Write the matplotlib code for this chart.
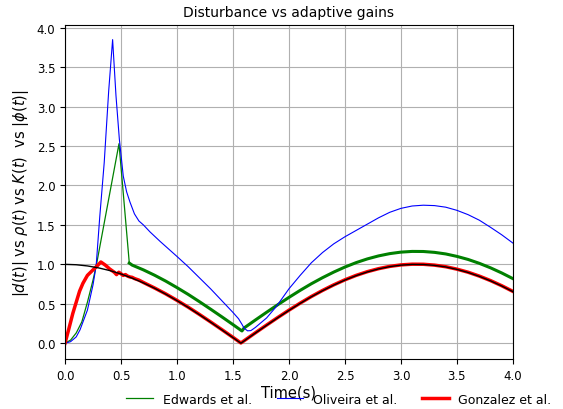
import numpy as np
import matplotlib.pyplot as plt

# disturbance |d(t)|
t_dist = [0.0, 0.1, 0.2, 0.3, 0.4, 0.5, 0.6, 0.7, 0.8, 0.9, 1.0, 1.1, 1.2, 1.3, 1.4, 1.5,
          1.5708, 1.6, 1.7, 1.8, 1.9, 2.0, 2.1, 2.2, 2.3, 2.4, 2.5, 2.6, 2.7, 2.8, 2.9, 3.0,
          3.1, 3.2, 3.3, 3.4, 3.5, 3.6, 3.7, 3.8, 3.9, 4.0]
d_abs = [1.000, 0.995, 0.980, 0.955, 0.921, 0.878, 0.825, 0.765, 0.697, 0.622, 0.540, 0.454,
         0.362, 0.267, 0.170, 0.071, 0.0, 0.029, 0.129, 0.227, 0.323, 0.416, 0.505, 0.589,
         0.666, 0.737, 0.801, 0.857, 0.904, 0.942, 0.971, 0.990, 0.999, 0.998, 0.987, 0.967,
         0.936, 0.897, 0.848, 0.791, 0.726, 0.654]

# Edwards et al. - rho(t)
t_edw = [0.0, 0.05, 0.1, 0.15, 0.2, 0.25, 0.28, 0.482, 0.574]
rho_edw = [0.0, 0.04, 0.13, 0.27, 0.52, 0.80, 0.99, 2.53, 1.016]
t_edw2 = [0.574, 0.6, 0.7, 0.8, 0.9, 1.0, 1.1, 1.2, 1.3, 1.4, 1.5, 1.58, 1.6, 1.7, 1.8,
          1.9, 2.0, 2.1, 2.2, 2.3, 2.4, 2.5, 2.6, 2.7, 2.8, 2.9, 3.0, 3.1, 3.2, 3.3, 3.4,
          3.5, 3.6, 3.7, 3.8, 3.9, 4.0]
rho_edw2 = [1.016, 0.99, 0.93, 0.862, 0.787, 0.705, 0.619, 0.527, 0.432, 0.335, 0.236, 0.155,
            0.194, 0.294, 0.392, 0.488, 0.581, 0.67, 0.754, 0.831, 0.902, 0.966, 1.022, 1.069,
            1.107, 1.136, 1.155, 1.164, 1.163, 1.152, 1.132, 1.101, 1.062, 1.013, 0.956,
            0.891, 0.819]

# Oliveira et al. - K(t)
t_oli = [0.0, 0.05, 0.1, 0.134, 0.2, 0.25, 0.265, 0.28, 0.31, 0.35, 0.39, 0.425, 0.455,
         0.485, 0.52, 0.55, 0.58, 0.62, 0.66, 0.7, 0.76, 0.85, 1.0, 1.1, 1.2, 1.3, 1.4,
         1.5, 1.55, 1.58, 1.6, 1.63, 1.66, 1.7, 1.8, 1.875, 1.9, 2.0, 2.1, 2.2, 2.3, 2.4,
         2.5, 2.6, 2.7, 2.8, 2.9, 3.0, 3.1, 3.2, 3.3, 3.4, 3.5, 3.6, 3.7, 3.8, 3.9, 4.0]
k_oli = [0.0, 0.02, 0.08, 0.17, 0.42, 0.74, 0.87, 1.02, 1.6, 2.29, 3.2, 3.85, 3.14, 2.59,
         2.12, 1.92, 1.79, 1.64, 1.55, 1.50, 1.41, 1.29, 1.10, 0.97, 0.83, 0.69, 0.54,
         0.39, 0.31, 0.24, 0.19, 0.157, 0.16, 0.20, 0.32, 0.445, 0.49, 0.69, 0.86, 1.02,
         1.15, 1.26, 1.35, 1.43, 1.51, 1.59, 1.66, 1.71, 1.74, 1.75, 1.745, 1.725, 1.685,
         1.63, 1.56, 1.47, 1.375, 1.27]

# Gonzalez et al. - |phi(t)|
t_gon = [0.0, 0.03, 0.07, 0.1, 0.13, 0.16, 0.2, 0.25, 0.28, 0.32, 0.36, 0.4, 0.44, 0.46,
         0.48, 0.5, 0.52, 0.54, 0.56, 0.58, 0.6, 0.62, 0.64, 0.66, 0.68, 0.7, 0.8, 0.9,
         1.0, 1.1, 1.2, 1.3, 1.4, 1.5, 1.5708, 1.6, 1.7, 1.8, 1.9, 2.0, 2.1, 2.2, 2.3,
         2.4, 2.5, 2.6, 2.7, 2.8, 2.9, 3.0, 3.1, 3.2, 3.3, 3.4, 3.5, 3.6, 3.7, 3.8, 3.9, 4.0]
phi_gon = [0.0, 0.16, 0.38, 0.52, 0.66, 0.76, 0.86, 0.93, 0.97, 1.03, 0.99, 0.94, 0.90,
           0.87, 0.90, 0.88, 0.86, 0.87, 0.85, 0.84, 0.835, 0.82, 0.81, 0.80, 0.785, 0.77,
           0.70, 0.625, 0.543, 0.457, 0.365, 0.27, 0.173, 0.074, 0.003, 0.032, 0.132,
           0.23, 0.326, 0.419, 0.508, 0.592, 0.669, 0.74, 0.804, 0.86, 0.907, 0.945, 0.974,
           0.993, 1.002, 1.001, 0.99, 0.97, 0.939, 0.9, 0.851, 0.794, 0.729, 0.657]

fig = plt.figure(figsize=(5.63, 4.1), dpi=100)
ax = fig.add_axes([0.1155, 0.122, 0.7955, 0.8155])

ax.plot(t_edw, rho_edw, color='green', lw=0.9, label='Edwards et al.')
ax.plot(t_edw2, rho_edw2, color='green', lw=2.2)
ax.plot(t_oli, k_oli, color='blue', lw=0.8, label='Oliveira et al.')
ax.plot(t_gon, phi_gon, color='red', lw=2.5, label='Gonzalez et al.')
ax.plot(t_dist, d_abs, color='black', lw=1.0)

ax.set_xlim(0, 4)
ax.set_ylim(-0.2, 4.04)
ax.set_xticks(np.arange(0, 4.01, 0.5))
ax.set_yticks(np.arange(0, 4.01, 0.5))
ax.tick_params(labelsize=8.5)
ax.grid(True)
ax.set_title('Disturbance vs adaptive gains', fontsize=10)
ax.set_xlabel('Time(s)', fontsize=10.5, labelpad=2)
ax.set_ylabel(r'$|d(t)|$ vs $\rho(t)$ vs $K(t)$  vs $|\phi(t)|$', fontsize=10.5)
ax.legend(loc='center', bbox_to_anchor=((339 / 563 - 0.1155) / 0.7955, -0.12), ncol=3,
          frameon=False, fontsize=9, handlelength=2.1, handletextpad=0.8,
          columnspacing=2.0, borderpad=0.1)

fig.savefig('out.png', dpi=100)
